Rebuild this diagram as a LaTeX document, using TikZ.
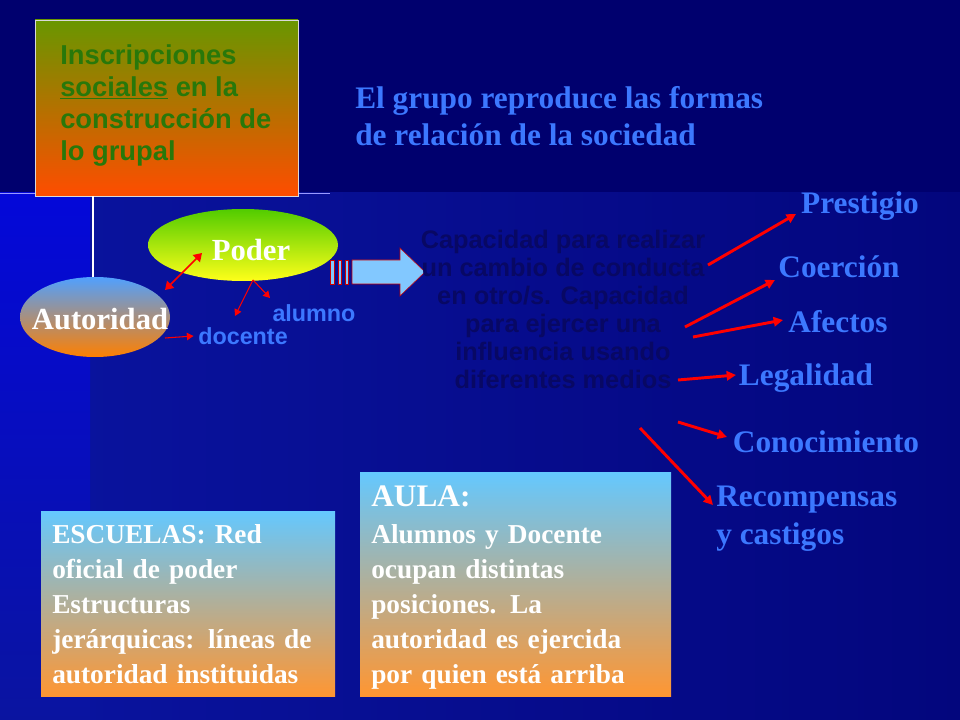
\documentclass[tikz,border=0pt]{standalone}
\usepackage{fontspec}
\setmainfont{Liberation Serif}
\setsansfont{Liberation Sans}
\usetikzlibrary{arrows.meta}
\definecolor{navy}{RGB}{0,0,110}
\definecolor{midblue}{RGB}{10,20,160}
\definecolor{ttl}{RGB}{60,120,255}
\definecolor{hid}{RGB}{8,8,100}
\definecolor{grn}{RGB}{40,120,10}
\definecolor{lblue}{RGB}{100,200,255}
\definecolor{lorange}{RGB}{255,150,50}
\definecolor{arrfill}{RGB}{130,200,255}
\begin{document}
\begin{tikzpicture}[x=0.75pt,y=-0.75pt,
 lbl/.style={text=ttl,font=\bfseries\fontsize{23.5}{27}\selectfont,inner sep=0pt},
 ra/.style={red,line width=2.2pt,-{Triangle[length=7pt,width=7pt]}},
 boxt/.style={text=white,font=\bfseries\fontsize{20.5}{26.3}\selectfont,align=left,anchor=north west,inner sep=0pt,text width=300}]
\useasboundingbox (0,0) rectangle (960,720);
\fill[navy] (0,0) rectangle (960,720);
\shade[left color=midblue,right color=navy!70!midblue] (0,193) rectangle (960,720);
\shade[top color=blue!60!midblue,bottom color=midblue] (0,193) rectangle (90,720);
\draw[white!60!blue,line width=0.6pt] (0,193) -- (330,193);
% top box
\shade[top color=olive!70!green!60!gray,bottom color=orange!60!red] (35,20) rectangle (298,196);
\draw[white!70!gray] (35,20) rectangle (298,196);
\node[anchor=north west,text=grn,font=\sffamily\bfseries\fontsize{20.5}{24}\selectfont,align=left,inner sep=0pt] (insc) at (60,44) {Inscripciones\\\underline{sociales} en la\\construcción de\\lo grupal};
\coordinate (vl) at (93,196);
\draw[white,line width=0.8pt] (vl) -- (93,285);
\node[anchor=north west,lbl,align=left,font=\bfseries\fontsize{23.5}{28}\selectfont] (title) at (355,86) {El grupo reproduce las formas\\de relación de la sociedad};
% ellipses
\shade[top color=green!60!yellow!80!black,bottom color=yellow!90!white] (243,245) ellipse (95 and 36);
\node[text=white,font=\bfseries\fontsize{23}{27}\selectfont] (poder) at (251,250) {Poder};
\shade[top color=lblue!80!blue,bottom color=orange] (95,317) ellipse (75 and 40);
\node[text=white,font=\bfseries\fontsize{23}{27}\selectfont] (aut) at (100,319) {Autoridad};
\coordinate (a1) at (165,290); \coordinate (a2) at (202,253);
\draw[red,line width=1.3pt,{Triangle[length=6pt]}-{Triangle[length=6pt]}] (a1) -- (a2);
\node[text=ttl,font=\sffamily\bfseries\fontsize{17.5}{20}\selectfont] (alu) at (314,313) {alumno};
\node[text=ttl,font=\sffamily\bfseries\fontsize{17.5}{20}\selectfont] (doc) at (243,336) {docente};
\coordinate (p0) at (253,280);
\draw[red,line width=0.8pt,-{Triangle[length=5pt]}] (p0) -- (235,316);
\draw[red,line width=0.8pt,-{Triangle[length=5pt]}] (p0) -- (270,298);
\draw[red,line width=0.8pt,-{Triangle[length=5pt]}] (165,338) -- (doc.west);
% block arrow
\filldraw[fill=arrfill,draw=red!80!black] (352,260) -- (400,260) -- (400,248) -- (425,272) -- (400,296) -- (400,284) -- (352,284) -- cycle;
\foreach \x/\w in {330/4,338/3,345/3}{\filldraw[fill=arrfill,draw=red!80!black] (\x,260) rectangle ++(\w,24);}
\node[text=hid,font=\sffamily\bfseries\fontsize{19}{21}\selectfont,align=center] (cap) at (563,309) {Capacidad para realizar\\un cambio de conducta\\en otro/s. Capacidad\\para ejercer una\\influencia usando\\diferentes medios};
% right labels
\node[lbl] (pre) at (860,206) {Prestigio};
\node[lbl] (coe) at (839,267) {Coerción};
\node[lbl] (afe) at (838,322) {Afectos};
\node[lbl] (leg) at (806,378) {Legalidad};
\node[lbl] (con) at (826,442) {Conocimiento};
\node[lbl,anchor=north west,align=left,font=\bfseries\fontsize{23.5}{28}\selectfont] (rec) at (716,486) {Recompensas\\y castigos};
\draw[ra] (708,265) -- (796,214);
\draw[ra] (685,327) -- (775,280);
\draw[ra] (693,337) -- (783,320);
\draw[ra] (678,380) -- (736,375);
\draw[ra] (678,422) -- (727,437);
\draw[ra] (640,428) -- (713,505);
% bottom boxes
\shade[top color=lblue,bottom color=lorange] (41,511) rectangle (335,696);
\node[boxt] (esc) at (52,524) {ESCUELAS: Red\\oficial de poder\\Estructuras\\jerárquicas: líneas de\\autoridad instituidas};
\shade[top color=lblue,bottom color=lorange] (360,472) rectangle (671,696);
\node[boxt,font=\bfseries\fontsize{23.5}{27}\selectfont] (aula) at (371,486) {AULA:};
\node[boxt] (aulat) at (371,524) {Alumnos y Docente\\ocupan distintas\\posiciones. La\\autoridad es ejercida\\por quien está arriba};
\end{tikzpicture}
\end{document}
